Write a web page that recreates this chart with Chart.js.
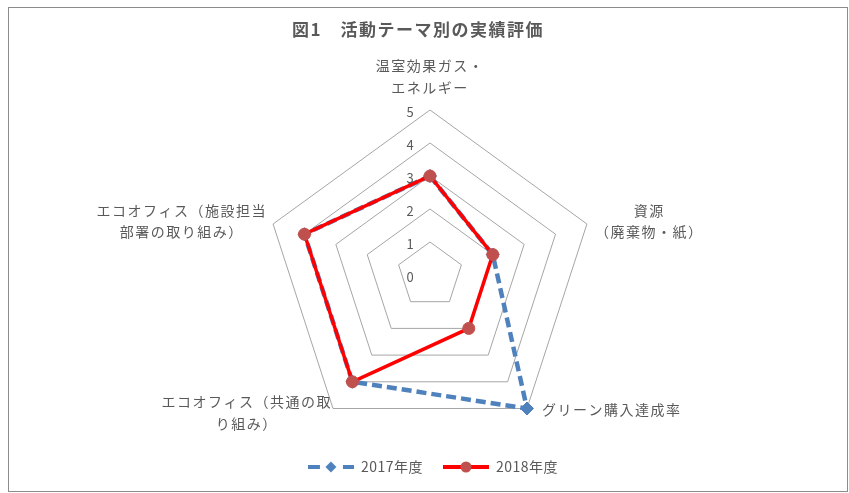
<!DOCTYPE html>
<html>
<head>
<meta charset="utf-8">
<script src="https://cdn.jsdelivr.net/npm/chart.js@4"></script>
<style>
  body { margin: 0; background: #fff; }
</style>
</head>
<body>
<canvas id="radarChart" width="849" height="493"></canvas>
<script>
const chartTitle = '図1　活動テーマ別の実績評価';
const categories = [
    ['温室効果ガス・', 'エネルギー'],
    ['資源', '（廃棄物・紙）'],
    ['グリーン購入達成率'],
    ['エコオフィス（共通の取', 'り組み）'],
    ['エコオフィス（施設担当', '部署の取り組み）']
];
const seriesNames = ['2017年度', '2018年度'];
const values2017 = [3, 2, 5, 4, 4];
const values2018 = [3, 2, 2, 4, 4];
const tickValues = [0, 1, 2, 3, 4, 5];

const FONT = "'Noto Sans CJK JP', 'Noto Sans', sans-serif";
const TEXT_COLOR = '#595959';
const BLUE = '#4F81BD';
const RED = '#FF0000';
const RED_MARK = '#C0504D';

Chart.defaults.font.family = FONT;

// legend markers: line with marker in the middle
function makeMarker(kind) {
    const c = document.createElement('canvas');
    c.width = 46;
    c.height = 14;
    const g = c.getContext('2d');
    g.lineWidth = 4;
    if (kind === 'diamond') {
        g.strokeStyle = BLUE;
        g.beginPath();
        g.moveTo(0, 7); g.lineTo(12, 7);
        g.moveTo(35, 7); g.lineTo(46, 7);
        g.stroke();
        g.fillStyle = BLUE;
        g.beginPath();
        g.moveTo(23, 1.5); g.lineTo(28.5, 7); g.lineTo(23, 12.5); g.lineTo(17.5, 7);
        g.closePath();
        g.fill();
    } else {
        g.strokeStyle = RED;
        g.beginPath();
        g.moveTo(0, 7); g.lineTo(46, 7);
        g.stroke();
        g.fillStyle = RED_MARK;
        g.beginPath();
        g.arc(23, 7, 5.5, 0, Math.PI * 2);
        g.fill();
    }
    return c;
}
const markers = [makeMarker('diamond'), makeMarker('circle')];

const decorPlugin = {
    id: 'decor',
    beforeDraw(chart) {
        const ctx = chart.ctx;
        ctx.save();
        ctx.fillStyle = '#fff';
        ctx.fillRect(0, 0, chart.width, chart.height);
        ctx.strokeStyle = '#8c8c8c';
        ctx.lineWidth = 1;
        ctx.strokeRect(8.5, 7.5, 839, 484);
        ctx.restore();
        ctx.letterSpacing = '0.5px';
    },
    beforeDatasetsDraw(chart) {
        chart.ctx.letterSpacing = '0px';
    },
    afterDraw(chart) {
        const ctx = chart.ctx;
        const scale = chart.scales.r;
        ctx.save();

        // title
        ctx.letterSpacing = '1.5px';
        ctx.fillStyle = TEXT_COLOR;
        ctx.font = 'bold 17px ' + FONT;
        ctx.textAlign = 'center';
        ctx.textBaseline = 'middle';
        ctx.fillText(chartTitle, 418, 30);

        // tick labels, left of the vertical axis
        ctx.letterSpacing = '0px';
        ctx.font = '13px ' + FONT;
        tickValues.forEach(v => {
            const d = scale.getDistanceFromCenterForValue(v);
            ctx.fillText(String(v), scale.xCenter - 20, scale.yCenter - d + 2);
        });

        // category labels
        ctx.letterSpacing = '1.5px';
        ctx.font = '14px ' + FONT;
        const lineH = 21.5;
        categories.forEach((lines, i) => {
            const p = scale.getPointPosition(i, scale.drawingArea);
            const a = scale.getIndexAngle(i);
            const s = Math.sin(a);
            const widths = lines.map(t => ctx.measureText(t).width);
            const w = Math.max(...widths);
            const h = lines.length * lineH;
            let cx, top;
            if (Math.abs(s) < 0.1) {
                cx = p.x;
                top = p.y - 12 - h;
            } else if (s > 0) {
                const gap = Math.cos(a) < 0 ? 15 : 8;
                cx = p.x + gap + w / 2;
                top = p.y - h / 2 - (Math.cos(a) < 0 ? -1 : 3);
            } else {
                const gap = Math.cos(a) < 0 ? 1 : 6;
                cx = p.x - gap - w / 2;
                top = p.y - h / 2 + (Math.cos(a) < 0 ? 4 : -3);
            }
            lines.forEach((t, k) => {
                ctx.fillText(t, cx, top + lineH * (k + 0.5));
            });
        });
        ctx.restore();
    }
};

new Chart(document.getElementById('radarChart'), {
    type: 'radar',
    data: {
        labels: categories,
        datasets: [
            {
                label: seriesNames[0],
                data: values2017,
                borderColor: BLUE,
                borderWidth: 4.5,
                borderDash: [10, 5],
                backgroundColor: BLUE,
                fill: false,
                pointStyle: 'rectRot',
                pointRadius: 6.5,
                pointBackgroundColor: BLUE,
                pointBorderColor: BLUE,
                pointBorderWidth: 1,
                order: 2
            },
            {
                label: seriesNames[1],
                data: values2018,
                borderColor: RED,
                borderWidth: 3.5,
                backgroundColor: RED_MARK,
                fill: false,
                pointStyle: 'circle',
                pointRadius: 6,
                pointBackgroundColor: RED_MARK,
                pointBorderColor: RED_MARK,
                pointBorderWidth: 1,
                order: 1
            }
        ]
    },
    options: {
        responsive: false,
        devicePixelRatio: 1,
        animation: false,
        layout: {
            padding: { top: 110, bottom: 9, left: 11, right: 0 }
        },
        scales: {
            r: {
                min: 0,
                max: 5,
                ticks: { display: false, stepSize: 1 },
                angleLines: { display: false },
                grid: { color: '#a6a6a6', lineWidth: 1 },
                pointLabels: { display: false }
            }
        },
        plugins: {
            title: { display: false },
            tooltip: { enabled: false },
            legend: {
                position: 'bottom',
                labels: {
                    usePointStyle: true,
                    pointStyleWidth: 46,
                    padding: 20,
                    color: TEXT_COLOR,
                    font: { size: 14, family: FONT },
                    generateLabels: () => seriesNames.map((name, i) => ({
                        text: name,
                        pointStyle: markers[i],
                        fillStyle: 'transparent',
                        strokeStyle: 'transparent',
                        lineWidth: 0,
                        hidden: false,
                        datasetIndex: i,
                        fontColor: TEXT_COLOR
                    }))
                }
            }
        }
    },
    plugins: [decorPlugin]
});
</script>
</body>
</html>
